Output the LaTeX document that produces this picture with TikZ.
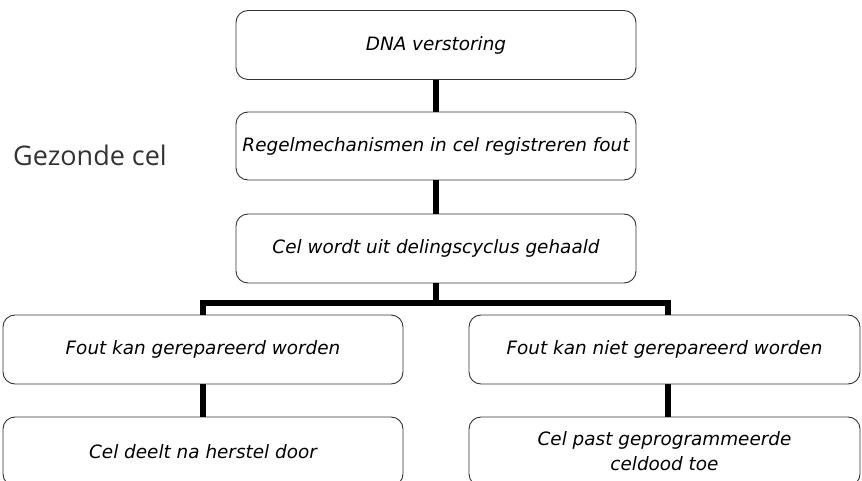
\documentclass[tikz,border=0pt]{standalone}
\usepackage{fontspec}
\setmainfont{DejaVu Sans}
\newfontfamily\titlefont{Open Sans}
\begin{document}
\begin{tikzpicture}[x=1pt,y={(0,-1pt)},
  box/.style={draw=black!80,line width=0.9pt,rounded corners=12pt,fill=white,
    inner sep=0pt,align=center,font=\itshape\fontsize{18.4}{25}\selectfont},
  link/.style={line width=5.5pt,draw=black}]
\useasboundingbox (0,0) rectangle (862,481);
\clip (0,0) rectangle (862,481);
\node[box,minimum width=400pt,minimum height=69pt] (b1) at (436,45) {DNA verstoring};
\node[box,minimum width=400pt,minimum height=68pt] (b2) at (436,146) {Regelmechanismen in cel registreren fout};
\node[box,minimum width=400pt,minimum height=69pt] (b3) at (436,248.5) {Cel wordt uit delingscyclus gehaald};
\node[box,minimum width=400pt,minimum height=69pt] (b4) at (203,349.5) {Fout kan gerepareerd worden};
\node[box,minimum width=400pt,minimum height=69pt] (b5) at (203,451.5) {Cel deelt na herstel door};
\node[box,minimum width=391pt,minimum height=69pt] (b6) at (664.5,349.5) {Fout kan niet gerepareerd worden};
\node[box,minimum width=391pt,minimum height=69pt] (b7) at (664.5,451.5) {Cel past geprogrammeerde\\celdood toe};
\node[anchor=west,inner sep=0pt,font=\titlefont\fontsize{27}{32}\selectfont,text=black!80] (t) at (13,155) {Gezonde cel};
\coordinate (jm) at (436,303);
\coordinate (jl) at (203,303);
\coordinate (jr) at (668,303);
\draw[link] (b1.south) -- (b2.north);
\draw[link] (b2.south) -- (b3.north);
\draw[link] (b3.south) -- (jm);
\draw[link,line cap=rect] (jl) -- (jr);
\draw[link] (jl) -- (jl |- b4.north);
\draw[link] (jr) -- (jr |- b6.north);
\draw[link] (b4.south) -- (b5.north);
\draw[link] (jr |- b6.south) -- (jr |- b7.north);
\end{tikzpicture}
\end{document}
